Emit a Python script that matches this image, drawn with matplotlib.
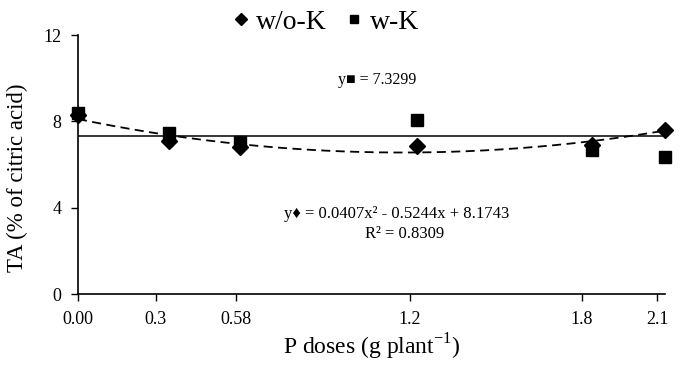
import numpy as np
import matplotlib
matplotlib.use("Agg")
import matplotlib.pyplot as plt

plt.rcParams["font.family"] = ["Liberation Serif", "DejaVu Serif"]
plt.rcParams["mathtext.fontset"] = "custom"
plt.rcParams["mathtext.rm"] = "Liberation Serif"

# P doses (position on the axis) and tick labels
doses = [0.0, 0.326, 0.58, 1.213, 1.839, 2.1]
tick_pos = [0.0, 0.279, 0.565, 1.188, 1.803, 2.072]
tick_labels = ["0.00", "0.3", "0.58", "1.2", "1.8", "2.1"]

# TA (% of citric acid)
ta_wo_k = [8.3, 7.1, 6.82, 6.88, 6.9, 7.62]
ta_w_k = [8.4, 7.45, 7.05, 8.05, 6.68, 6.35]


def main():
    fig = plt.figure(figsize=(6.81, 3.65), dpi=100)
    ax = fig.add_axes([0.1145, 0.1945, 0.862, 0.7096])

    # trendlines
    coef = np.polyfit(doses, ta_wo_k, 2)
    xs = np.linspace(doses[0], doses[-1], 200)
    ax.plot(xs, np.polyval(coef, xs), "--", color="black", lw=1.3,
            dashes=(5, 3), zorder=2)
    mean_w = np.mean(ta_w_k)
    ax.plot([doses[0], doses[-1]], [mean_w, mean_w], "-", color="black",
            lw=1.1, zorder=2)

    ax.plot(doses, ta_wo_k, "D", color="black", ms=8.5, label="w/o-K",
            zorder=3, clip_on=False)
    ax.plot(doses, ta_w_k, "s", color="black", ms=9, label="w-K",
            zorder=4, clip_on=False)

    ax.set_xlim(0, 2.1)
    ax.set_ylim(0, 12)
    ax.set_yticks([0, 4, 8, 12])
    ax.set_xticks(tick_pos)
    ax.set_xticklabels(tick_labels)
    ax.tick_params(axis="both", direction="out", length=5, width=1,
                   labelsize=13, color="black")
    ax.tick_params(axis="x", pad=7)
    ax.tick_params(axis="y", pad=7)
    for s in ["top", "right"]:
        ax.spines[s].set_visible(False)
    for s in ["left", "bottom"]:
        ax.spines[s].set_linewidth(1.2)

    ax.set_ylabel("TA (% of citric acid)", fontsize=16.5)
    ax.yaxis.set_label_coords(-0.085, 0.45)
    ax.set_xlabel("P doses (g plant$^{\\mathrm{-1}}$)", fontsize=17,
                  labelpad=3)

    ax.text(0.93, 9.9, "y\u25a0 = 7.3299", fontsize=11.5, ha="left",
            va="center")
    ax.text(1.14, 3.7, "y\u2666 = 0.0407x\u00b2 - 0.5244x + 8.1743",
            fontsize=12, ha="center", va="center")
    ax.text(1.17, 2.8, "R\u00b2 = 0.8309", fontsize=12, ha="center",
            va="center")

    fig.legend(loc="center", bbox_to_anchor=(0.475, 0.94), ncol=2,
               frameon=False, fontsize=20, handletextpad=0.1,
               columnspacing=0.55, markerscale=0.7, handlelength=0.9)

    fig.savefig("out.png", dpi=100)


if __name__ == "__main__":
    main()
